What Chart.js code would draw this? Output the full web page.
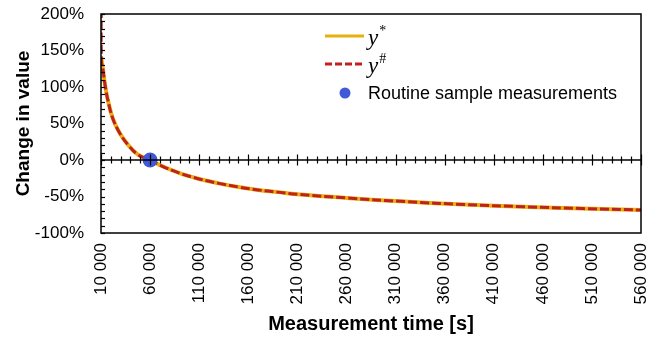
<!DOCTYPE html>
<html>
<head>
<meta charset="utf-8">
<script src="https://cdn.jsdelivr.net/npm/chart.js@4.4.1/dist/chart.umd.min.js"></script>
<style>
    html, body { margin: 0; padding: 0; background: #ffffff; }
    #wrap { width: 646px; height: 338px; }
</style>
</head>
<body>
<div id="wrap"><canvas id="base" width="646" height="338"></canvas></div>
<script>
// Data
const timesStar = [10000, 12000, 14000, 17000, 22000, 29000, 38000, 48000, 60000, 70000, 90000, 110000, 130000, 150000, 170000, 190000, 210000, 260000, 320000, 380000, 440000, 500000, 560000];
const yStar = [142, 124, 104, 82, 57, 37, 20, 7, 0, -7, -18, -26, -32, -37, -41, -44, -47, -52, -57, -61, -64, -66.5, -68.5];
const timesHash = [10400, 10400, 12000, 14000, 17000, 22000, 29000, 38000, 48000, 60000, 70000, 90000, 110000, 130000, 150000, 170000, 190000, 210000, 260000, 320000, 380000, 440000, 500000, 560000];
const yHash = [240, 136, 124, 104, 82, 57, 37, 20, 7, 0, -7, -18, -26, -32, -37, -41, -44, -47, -52, -57, -61, -64, -66.5, -68.5];
const sampleTimes = [60000];
const sampleValues = [0];

const xTickValues = [10000, 60000, 110000, 160000, 210000, 260000, 310000, 360000, 410000, 460000, 510000, 560000];
const xTickLabels = ["10 000", "60 000", "110 000", "160 000", "210 000", "260 000", "310 000", "360 000", "410 000", "460 000", "510 000", "560 000"];
const yTickValues = [-100, -50, 0, 50, 100, 150, 200];
const yTickLabels = ["-100%", "-50%", "0%", "50%", "100%", "150%", "200%"];

const seriesNames = ["y", "y", "Routine sample measurements"];
const seriesMarks = ["*", "#", ""];

const SANS = "'Liberation Sans', Arial, sans-serif";
const SERIF = "'Liberation Serif', 'Times New Roman', serif";
const YELLOW = "#E8B00E";
const RED = "#C0201E";
const BLUE = "#4158D8";

// Frame, zero axis with ticks, and legend
const framePlugin = {
    id: "frame",
    afterDatasetsDraw(chart) {
        const ctx = chart.ctx;
        const area = chart.chartArea;
        const xs = chart.scales.x;
        const ys = chart.scales.y;
        const y0 = ys.getPixelForValue(0);

        ctx.save();
        ctx.strokeStyle = "#000000";
        ctx.lineWidth = 1.5;
        ctx.strokeRect(area.left, area.top, area.right - area.left, area.bottom - area.top);

        // y minor ticks (inside)
        ctx.lineWidth = 1.2;
        for (let v = -100; v <= 200; v += 10) {
            const py = Math.round(ys.getPixelForValue(v)) + 0.5;
            ctx.beginPath();
            ctx.moveTo(area.left, py);
            ctx.lineTo(area.left + 4, py);
            ctx.stroke();
        }

        // zero line
        ctx.lineWidth = 1.5;
        ctx.beginPath();
        ctx.moveTo(area.left, y0);
        ctx.lineTo(area.right, y0);
        ctx.stroke();

        // x ticks crossing the zero line
        ctx.lineWidth = 1.2;
        for (let v = 10000; v <= 560000; v += 10000) {
            const px = Math.round(xs.getPixelForValue(v)) + 0.5;
            const len = (v - 10000) % 50000 === 0 ? 5.5 : 3.5;
            ctx.beginPath();
            ctx.moveTo(px, y0 - len);
            ctx.lineTo(px, y0 + len);
            ctx.stroke();
        }
        ctx.restore();
    },
    afterDraw(chart) {
        const ctx = chart.ctx;
        const rows = [36, 64, 93];
        ctx.save();
        chart.data.datasets.forEach((ds, i) => {
            const ry = rows[i];
            if (i < 2) {
                ctx.strokeStyle = ds.borderColor;
                ctx.lineWidth = 3;
                ctx.setLineDash(i === 1 ? [7, 3] : []);
                ctx.beginPath();
                ctx.moveTo(325, ry);
                ctx.lineTo(364, ry);
                ctx.stroke();
                ctx.setLineDash([]);
                ctx.fillStyle = "#000000";
                ctx.textBaseline = "alphabetic";
                ctx.textAlign = "left";
                ctx.font = "italic 23px " + SERIF;
                ctx.fillText(seriesNames[i], 368, ry + 9);
                const w = ctx.measureText(seriesNames[i]).width;
                ctx.font = "14px " + SERIF;
                ctx.fillText(seriesMarks[i], 368 + w + 1, ry - 1);
            } else {
                ctx.fillStyle = ds.backgroundColor;
                ctx.beginPath();
                ctx.arc(345, ry, 5.5, 0, Math.PI * 2);
                ctx.fill();
                ctx.fillStyle = "#000000";
                ctx.font = "18px " + SANS;
                ctx.textBaseline = "middle";
                ctx.textAlign = "left";
                ctx.fillText(seriesNames[i], 368, ry + 1);
            }
        });
        ctx.restore();
    },
};

const base = document.getElementById("base").getContext("2d");

const chart = new Chart(base, {
    type: "line",
    data: {
        datasets: [
            {
                label: "y*",
                data: timesStar.map((t, i) => ({ x: t, y: yStar[i] })),
                borderColor: YELLOW,
                borderWidth: 4,
                pointRadius: 0,
                tension: 0.4,
                fill: false,
                order: 2,
            },
            {
                label: "y#",
                data: timesHash.map((t, i) => ({ x: t, y: yHash[i] })),
                borderColor: RED,
                borderWidth: 3,
                borderDash: [9, 3],
                pointRadius: 0,
                tension: 0.4,
                fill: false,
                order: 1,
            },
            {
                label: "Routine sample measurements",
                data: sampleTimes.map((t, i) => ({ x: t, y: sampleValues[i] })),
                showLine: false,
                pointRadius: 7.5,
                pointBorderWidth: 0,
                backgroundColor: BLUE,
                borderColor: BLUE,
                clip: false,
                order: 0,
            },
        ],
    },
    options: {
        responsive: false,
        animation: false,
        devicePixelRatio: 1,
        layout: {
            autoPadding: false,
            padding: { top: 14, right: 5, left: 0, bottom: 0 },
        },
        scales: {
            x: {
                type: "linear",
                position: "bottom",
                min: 10000,
                max: 560000,
                afterBuildTicks: (s) => {
                    s.ticks = xTickValues.map((v) => ({ value: v }));
                },
                afterFit: (s) => {
                    s.height = 105;
                    s.paddingLeft = 0;
                    s.paddingRight = 0;
                },
                grid: { display: false, drawTicks: false },
                border: { display: false },
                ticks: {
                    autoSkip: false,
                    maxRotation: 90,
                    minRotation: 90,
                    padding: 10,
                    color: "#000000",
                    font: { family: SANS, size: 17 },
                    callback: (v, i) => xTickLabels[i],
                },
                title: {
                    display: true,
                    text: "Measurement time [s]",
                    color: "#000000",
                    font: { family: SANS, size: 20, weight: "bold" },
                    padding: { top: 0, bottom: 2 },
                },
            },
            y: {
                min: -100,
                max: 200,
                afterBuildTicks: (s) => {
                    s.ticks = yTickValues.map((v) => ({ value: v }));
                },
                afterFit: (s) => {
                    s.width = 101;
                    s.paddingTop = 0;
                    s.paddingBottom = 0;
                },
                grid: { display: false, drawTicks: false },
                border: { display: false },
                ticks: {
                    padding: 17,
                    color: "#000000",
                    font: { family: SANS, size: 17 },
                    callback: (v, i) => yTickLabels[i],
                },
                title: {
                    display: true,
                    text: "Change in value",
                    color: "#000000",
                    font: { family: SANS, size: 19, weight: "bold" },
                    padding: { top: 12, bottom: 0 },
                },
            },
        },
        plugins: {
            legend: { display: false },
            tooltip: { enabled: false },
        },
    },
    plugins: [framePlugin],
});
</script>
</body>
</html>
